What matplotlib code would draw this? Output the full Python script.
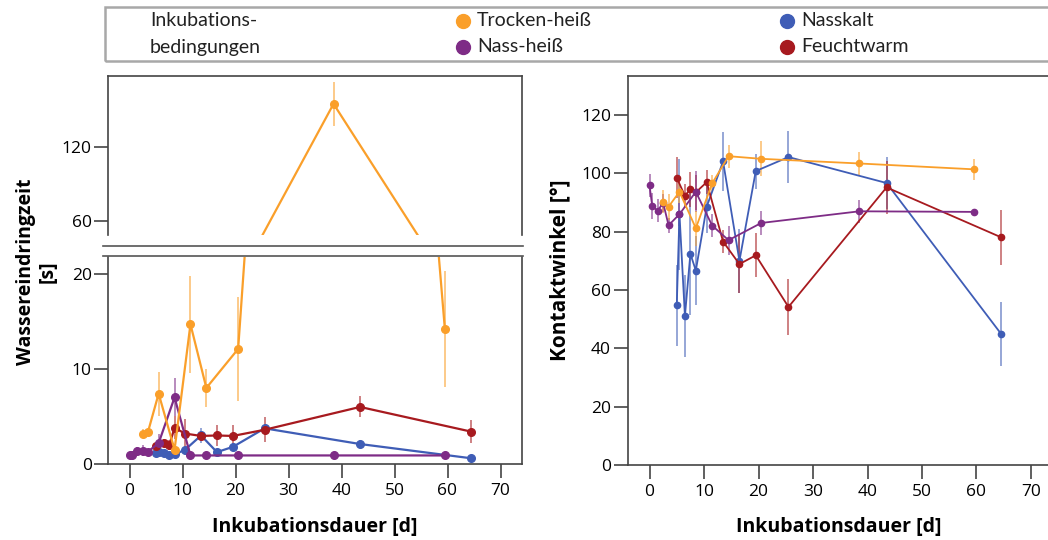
import matplotlib
matplotlib.use("Agg")
import matplotlib.pyplot as plt
from matplotlib.lines import Line2D
from matplotlib.patches import Rectangle

# ---------------- Daten ----------------
# Inkubationsdauer [d] je Bedingung
tr_x = [2.5, 3.5, 5.5, 8.5, 11.5, 14.5, 20.5, 38.5, 59.5]
nh_x = [0, 0.5, 1.5, 2.5, 3.5, 5.5, 8.5, 11.5, 14.5, 20.5, 38.5, 59.5]
nk_x = [5, 5.5, 6.5, 7.5, 8.5, 10.5, 13.5, 16.5, 19.5, 25.5, 43.5, 64.5]
fw_x = [5, 6.5, 7.5, 8.5, 10.5, 13.5, 16.5, 19.5, 25.5, 43.5, 64.5]

# Wassereindringzeit [s]
tr_wez = [3.2, 3.4, 7.4, 1.5, 14.7, 8.0, 12.1, 155, 14.2]
tr_wez_err = [0.5, 0.3, 2.3, 0.3, 5.1, 2.0, 5.5, 18, 6.1]
nh_wez = [0.9, 0.9, 1.4, 1.4, 1.3, 2.2, 7.0, 0.9, 0.9, 0.9, 0.9, 0.9]
nh_wez_err = [0.1, 0.1, 0.4, 0.6, 0.2, 1.0, 2.0, 0, 0, 0, 0, 0]
nk_wez = [1.2, 1.3, 1.15, 0.9, 1.0, 1.5, 3.0, 1.25, 1.8, 3.75, 2.1, 0.6]
nk_wez_err = [0.3, 0.3, 0.2, 0.2, 0.2, 0.3, 0.8, 0.2, 0.4, 0.3, 0.4, 0.1]
fw_wez = [1.9, 2.2, 2.0, 3.8, 3.2, 2.95, 3.0, 2.95, 3.6, 6.0, 3.4]
fw_wez_err = [0.4, 0.4, 0.5, 1.2, 1.5, 0.5, 1.1, 1.2, 1.3, 1.1, 1.2]

# Kontaktwinkel [°]
tr_kw = [90.3, 88.6, 93.7, 81.2, 96.6, 105.9, 105.0, 103.4, 101.4]
tr_kw_err = [4, 4.5, 4, 6, 3, 4, 6, 4, 3.5]
nh_kw = [95.9, 88.8, 87.2, 89.9, 82.2, 86.0, 93.7, 82.1, 77.1, 83.0, 87.0, 86.8]
nh_kw_err = [4, 4.5, 4, 3, 2.5, 4, 7, 4, 5, 4, 4, 1]
nk_kw = [54.7, 86.0, 51.1, 72.4, 66.7, 88.6, 104.1, 70.0, 100.8, 105.6, 96.7, 45.0]
nk_kw_err = [14, 19, 14, 21, 12, 9, 10, 11, 6, 9, 9, 11]
fw_kw = [98.5, 92.3, 94.6, 93.5, 97.0, 76.6, 68.9, 71.9, 54.2, 95.2, 78.1]
fw_kw_err = [7, 4, 6, 6, 4, 4, 10, 7.5, 9.5, 9, 9.5]

x_ticks = [0, 10, 20, 30, 40, 50, 60, 70]

ORANGE = "#FA9F2A"
PURPLE = "#7E2C86"
BLUE = "#3F5DB6"
RED = "#A71A1F"

W, H = 1048, 540
TICK_FONT = "Open Sans"
LABEL_FONT = "Open Sans"

plt.rcParams["font.family"] = [TICK_FONT, "DejaVu Sans"]
plt.rcParams["axes.edgecolor"] = "#444444"
plt.rcParams["axes.linewidth"] = 1.2

fig = plt.figure(figsize=(W / 100, H / 100), dpi=100)


def box(x0, y0, x1, y1):
    """Pixelkoordinaten (oben links = 0,0) -> Figure-Koordinaten."""
    return [x0 / W, 1 - y1 / H, (x1 - x0) / W, (y1 - y0) / H]


ax_top = fig.add_axes(box(108.3, 76, 521.7, 235))
ax_low = fig.add_axes(box(108.3, 256.7, 521.7, 464))
ax_r = fig.add_axes(box(627.7, 76, 1052.8, 465))


def series(ax, x, y, err, color, lw, ms):
    ax.errorbar(x, y, yerr=err, fmt="none", ecolor=color, alpha=0.55,
                elinewidth=1.4, capsize=0, zorder=2)
    ax.plot(x, y, color=color, lw=lw, marker="o", ms=ms, zorder=3)


left_data = [
    (nk_x, nk_wez, nk_wez_err, BLUE),
    (fw_x, fw_wez, fw_wez_err, RED),
    (nh_x, nh_wez, nh_wez_err, PURPLE),
    (tr_x, tr_wez, tr_wez_err, ORANGE),
]
for ax in (ax_top, ax_low):
    for x, y, e, c in left_data:
        series(ax, x, y, e, c, lw=1.6, ms=5.5)

right_data = [
    (nk_x, nk_kw, nk_kw_err, BLUE),
    (fw_x, fw_kw, fw_kw_err, RED),
    (nh_x, nh_kw, nh_kw_err, PURPLE),
    (tr_x, tr_kw, tr_kw_err, ORANGE),
]
for x, y, e, c in right_data:
    series(ax_r, x, y, e, c, lw=1.3, ms=4.5)

# Achsen
ax_top.set_xlim(-4, 74)
ax_low.set_xlim(-4, 74)
ax_top.set_ylim(48.6, 177.6)
ax_low.set_ylim(0, 21.8)
ax_top.set_yticks([60, 120])
ax_low.set_yticks([0, 10, 20])
ax_top.set_xticks([])
ax_low.set_xticks(x_ticks)
ax_top.spines["bottom"].set_visible(False)
ax_low.spines["top"].set_visible(False)

ax_r.set_xlim(-4, 74)
ax_r.set_ylim(0, 133.4)
ax_r.set_xticks(x_ticks)
ax_r.set_yticks([0, 20, 40, 60, 80, 100, 120])

for ax in (ax_top, ax_low, ax_r):
    ax.tick_params(direction="out", length=10, width=1.2, color="#444444",
                   labelsize=12.5, pad=2)
    ax.set_facecolor("white")
ax_low.tick_params(axis="x", pad=4)
ax_r.tick_params(axis="x", pad=4)

# Achsenbruch
for yy in (246, 255.5):
    fig.add_artist(Line2D([103 / W, 523 / W], [1 - yy / H, 1 - yy / H],
                          color="#555555", lw=1.2))

# Beschriftungen
lab = dict(fontsize=14, fontweight="bold", family=[LABEL_FONT, "DejaVu Sans"])
fig.text(37 / W, 1 - 272 / H, "Wassereindringzeit\n[s]", rotation=90,
         ha="center", va="center", multialignment="center",
         linespacing=1.1, **lab)
fig.text(560 / W, 1 - 270 / H, "Kontaktwinkel [°]", rotation=90,
         ha="center", va="center", fontsize=15, fontweight="bold",
         family=[LABEL_FONT, "DejaVu Sans"])
fig.text(315 / W, 1 - 527 / H, "Inkubationsdauer [d]", ha="center",
         va="center", **lab)
fig.text(839 / W, 1 - 527 / H, "Inkubationsdauer [d]", ha="center",
         va="center", **lab)

# Legende (Kasten oben)
fig.add_artist(Rectangle((104.5 / W, 1 - 61 / H), (1060 - 104.5) / W,
                         54 / H, transform=fig.transFigure, fill=False,
                         edgecolor="#A8A8A8", lw=1.8))
leg_font = dict(fontsize=14, family=["Lato", "DejaVu Sans"], va="center",
                color="#222222")
fig.text(150 / W, 1 - 21 / H, "Inkubations-", **leg_font)
fig.text(150 / W, 1 - 47 / H, "bedingungen", **leg_font)
legend_items = [
    ("Trocken-heiß", ORANGE, 463, 21),
    ("Nass-heiß", PURPLE, 463, 47),
    ("Nasskalt", BLUE, 787, 21),
    ("Feuchtwarm", RED, 787, 47),
]
for name, c, lx, ly in legend_items:
    fig.add_artist(Line2D([lx / W], [1 - ly / H], marker="o", ms=10,
                          color=c, lw=0))
    fig.text((lx + 14) / W, 1 - ly / H, name, **leg_font)

fig.savefig("out.png", dpi=100)
